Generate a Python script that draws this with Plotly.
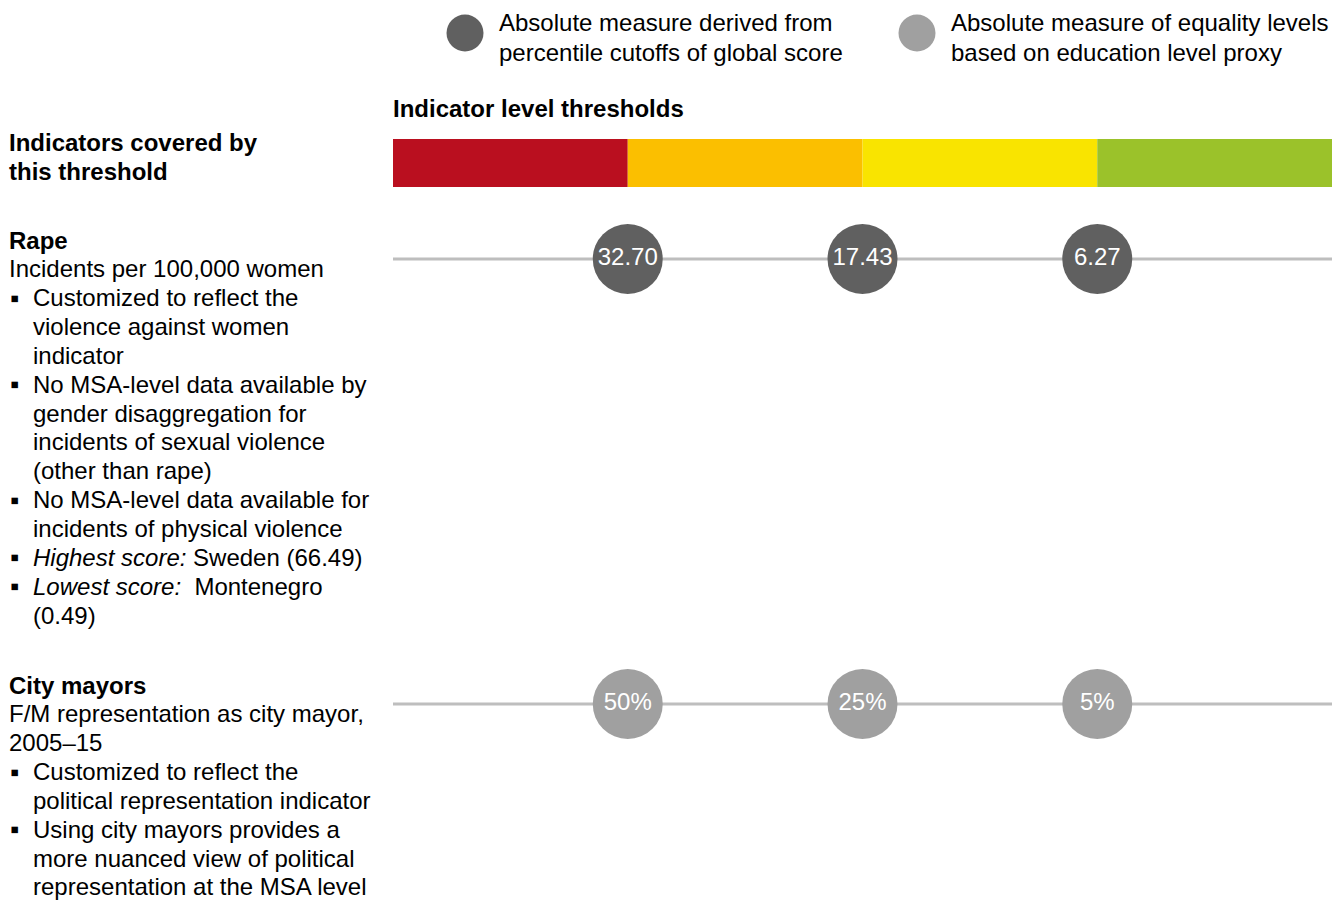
import plotly.graph_objects as go

W, H = 1332, 900
FONT = "Liberation Sans, Arial, sans-serif"
FS = 24

# Threshold bands (worst to best) and the cutoffs separating them
band_colors = ["#BA0F1F", "#FBBF00", "#F9E400", "#9BC22A"]
cutoff_positions = [1, 2, 3]

# Cutoff values for each indicator
rape_cutoffs = [32.70, 17.43, 6.27]
mayor_cutoffs = [50, 25, 5]

legend_labels = [
    ["Absolute measure derived from", "percentile cutoffs of global score"],
    ["Absolute measure of equality levels", "based on education level proxy"],
]
dark_grey = "#606060"
light_grey = "#A0A0A0"
line_grey = "#BEBEBE"

rape_lines = [
    ("b", "Rape"),
    ("t", "Incidents per 100,000 women"),
    ("bul", "Customized to reflect the"),
    ("ind", "violence against women"),
    ("ind", "indicator"),
    ("bul", "No MSA-level data available by"),
    ("ind", "gender disaggregation for"),
    ("ind", "incidents of sexual violence"),
    ("ind", "(other than rape)"),
    ("bul", "No MSA-level data available for"),
    ("ind", "incidents of physical violence"),
    ("bul", "<i>Highest score:</i> Sweden (66.49)"),
    ("bul", "<i>Lowest score:</i>\u00a0 Montenegro"),
    ("ind", "(0.49)"),
]
mayor_lines = [
    ("b", "City mayors"),
    ("t", "F/M representation as city mayor,"),
    ("t", "2005\u201315"),
    ("bul", "Customized to reflect the"),
    ("ind", "political representation indicator"),
    ("bul", "Using city mayors provides a"),
    ("ind", "more nuanced view of political"),
    ("ind", "representation at the MSA level"),
]

BAND_Y = 163
RAPE_Y = 259
MAYOR_Y = 704

fig = go.Figure()

# Colour band of indicator levels
for i, c in enumerate(band_colors):
    fig.add_trace(go.Bar(
        x=[1], base=[i], y=[BAND_Y], orientation="h", width=48,
        marker=dict(color=c, line=dict(width=0)), hoverinfo="skip",
    ))

# Indicator rows: track line plus cutoff bubbles
rows = [
    (RAPE_Y, [f"{v:.2f}" for v in rape_cutoffs], dark_grey),
    (MAYOR_Y, [f"{v}%" for v in mayor_cutoffs], light_grey),
]
for y, labels, col in rows:
    fig.add_trace(go.Scatter(
        x=[0, len(band_colors)], y=[y, y], mode="lines",
        line=dict(color=line_grey, width=3), hoverinfo="skip",
    ))
    fig.add_trace(go.Scatter(
        x=cutoff_positions, y=[y] * len(cutoff_positions),
        mode="markers+text", text=labels, textposition="middle center",
        textfont=dict(color="white", size=FS, family=FONT),
        marker=dict(size=70, color=col, line=dict(width=0)),
        cliponaxis=False, hoverinfo="skip",
    ))


def px_text(x, y, text, bold=False, size=FS):
    # annotation boxes pad the text by ~2px, so shift left to compensate
    fig.add_annotation(
        x=(x - 2) / W, xref="paper", y=y, yref="y",
        text=f"<b>{text}</b>" if bold else text,
        xanchor="left", yanchor="middle", showarrow=False,
        font=dict(family=FONT, size=size, color="#000000"),
    )


# Legend
for (cx, cy, col), lines, tx in zip(
    [(465, 33, dark_grey), (917, 33, light_grey)], legend_labels, [499, 951]
):
    fig.add_shape(
        type="circle", xref="paper", yref="y",
        x0=(cx - 18.5) / W, x1=(cx + 18.5) / W, y0=cy - 18.5, y1=cy + 18.5,
        fillcolor=col, line=dict(width=0),
    )
    for k, ln in enumerate(lines):
        px_text(tx, 22 + 30 * k, ln)

# Headers
px_text(393, 108, "Indicator level thresholds", bold=True)
px_text(9, 142, "Indicators covered by", bold=True)
px_text(9, 171, "this threshold", bold=True)


def text_block(lines, y0, step=28.85):
    for k, (kind, txt) in enumerate(lines):
        y = y0 + step * k
        if kind == "b":
            px_text(9, y, txt, bold=True)
        elif kind == "t":
            px_text(9, y, txt)
        else:
            if kind == "bul":
                px_text(10, y, "\u25aa", size=26)
            px_text(33, y, txt)


text_block(rape_lines, 240)
text_block(mayor_lines, 685)

fig.update_layout(
    width=W, height=H, margin=dict(l=0, r=0, t=0, b=0),
    paper_bgcolor="white", plot_bgcolor="white",
    showlegend=False, barmode="overlay",
    xaxis=dict(domain=[393 / W, 1], range=[0, len(band_colors)], visible=False, fixedrange=True),
    yaxis=dict(domain=[0, 1], range=[H, 0], visible=False, fixedrange=True),
)

fig.write_html("out.html", config={"displayModeBar": False})
